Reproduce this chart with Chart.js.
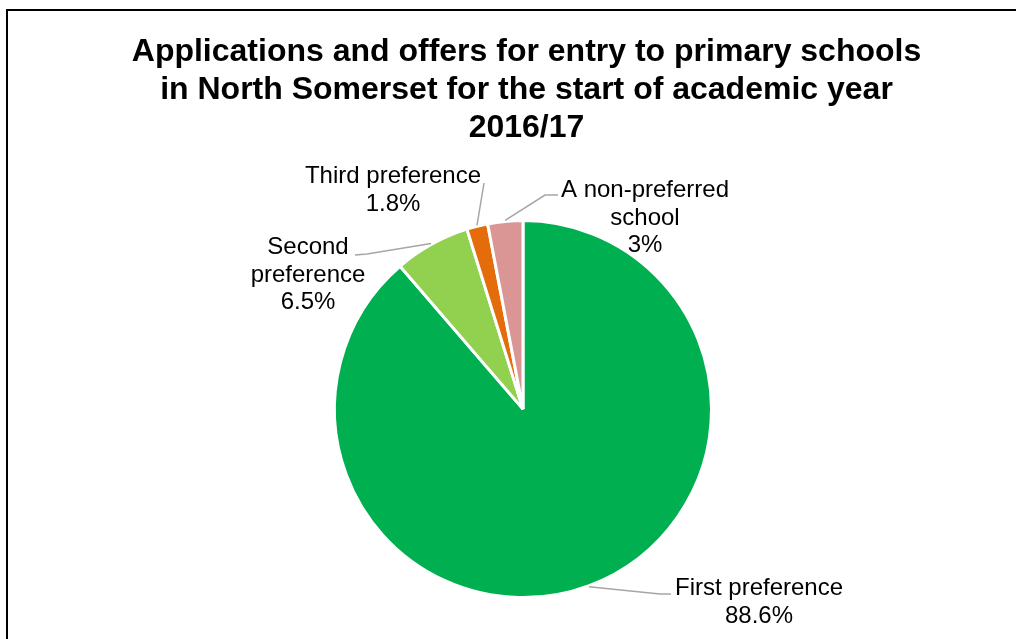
<!DOCTYPE html>
<html>
<head>
<meta charset="utf-8">
<title>Primary school offers 2016/17</title>
<script src="https://cdn.jsdelivr.net/npm/chart.js@4"></script>
<style>
  html, body { margin: 0; padding: 0; background: #fff; overflow: hidden; }
  #frame { position: absolute; left: 6px; top: 9px; border-top: 2px solid #000; border-left: 2px solid #000; }
  #box { position: relative; width: 1030px; height: 640px; }
</style>
</head>
<body>
<div id="frame"><div id="box"><canvas id="pieChart"></canvas></div></div>
<script>
const titleLines = [
    'Applications and offers for entry to primary schools',
    'in North Somerset for the start of academic year',
    '2016/17'
];
const categories = [
    ['First preference'],
    ['Second', 'preference'],
    ['Third preference'],
    ['A non-preferred', 'school']
];
const shares = [88.6, 6.5, 1.8, 3];
const sliceColours = ['#00B050', '#92D050', '#E46C0A', '#D99694'];

// label placement: x centre + first baseline, then the leader start and its elbow
const labelSpots = [
    {x: 751, y: 584, from: [663, 583], elbow: [652, 583]},
    {x: 300, y: 243, from: [347, 244], elbow: [359, 243]},
    {x: 385, y: 172, from: [476, 172], elbow: [476, 172]},
    {x: 637, y: 186, from: [550, 184], elbow: [537, 184]}
];

const labelFont = '24px "Liberation Sans", Arial, sans-serif';

// the title box is a touch right of the pie centre
const nudgeTitle = {
    id: 'nudgeTitle',
    afterLayout(chart) {
        chart.titleBlock.left += 3.5;
        chart.titleBlock.right += 3.5;
    }
};

const sliceLabels = {
    id: 'sliceLabels',
    afterDatasetsDraw(chart) {
        const ctx = chart.ctx;
        const arcs = chart.getDatasetMeta(0).data;
        ctx.save();
        arcs.forEach((arc, i) => {
            const spot = labelSpots[i];
            const mid = (arc.startAngle + arc.endAngle) / 2;
            const r = arc.outerRadius + 1;
            ctx.strokeStyle = '#A6A6A6';
            ctx.lineWidth = 1.5;
            ctx.beginPath();
            ctx.moveTo(spot.from[0], spot.from[1]);
            ctx.lineTo(spot.elbow[0], spot.elbow[1]);
            ctx.lineTo(arc.x + Math.cos(mid) * r, arc.y + Math.sin(mid) * r);
            ctx.stroke();

            const lines = categories[i].concat(shares[i] + '%');
            ctx.fillStyle = '#000';
            ctx.font = labelFont;
            ctx.textAlign = 'center';
            ctx.textBaseline = 'alphabetic';
            lines.forEach((t, k) => ctx.fillText(t, spot.x, spot.y + k * 27.5));
        });
        ctx.restore();
    }
};

new Chart(document.getElementById('pieChart'), {
    type: 'pie',
    data: {
        labels: categories,
        datasets: [{
            data: shares,
            backgroundColor: sliceColours,
            borderColor: '#FFFFFF',
            borderWidth: 3,
            radius: 188.5
        }]
    },
    options: {
        responsive: true,
        maintainAspectRatio: false,
        devicePixelRatio: 1,
        animation: false,
        layout: { padding: 0 },
        plugins: {
            legend: { display: false },
            tooltip: { enabled: false },
            title: {
                display: true,
                text: titleLines,
                color: '#000',
                font: { family: '"Liberation Sans", Arial, sans-serif', size: 32, weight: 'bold', lineHeight: 1.19 },
                padding: { top: 22, bottom: 20 }
            }
        }
    },
    plugins: [nudgeTitle, sliceLabels]
});
</script>
</body>
</html>
